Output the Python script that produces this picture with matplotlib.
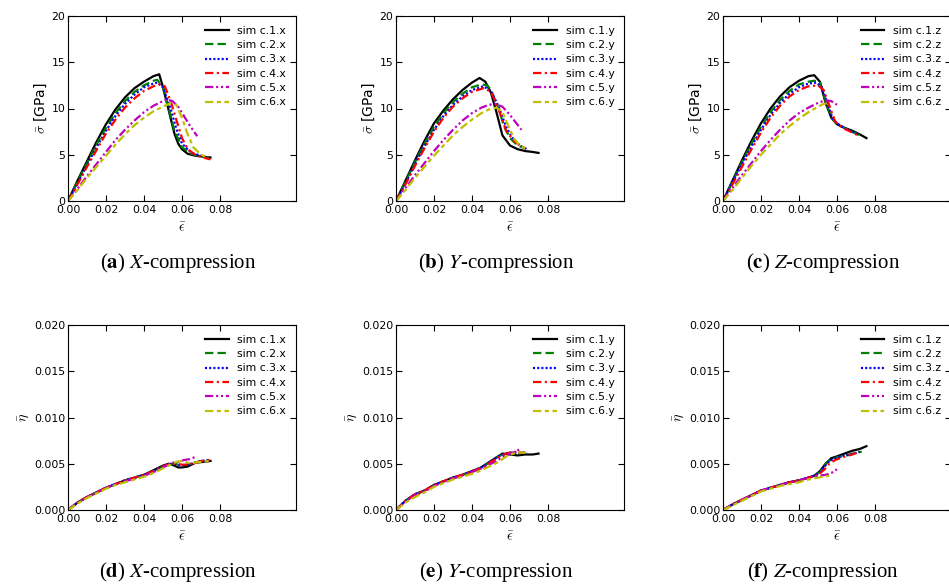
import matplotlib
matplotlib.use('Agg')
import matplotlib.pyplot as plt

# strain / stress / porosity readings per case (c.1 ... c.6)
eps_x = [
    [0, .005, .01, .015, .02, .025, .03, .035, .04, .045, .048, .050, .053, .056, .058, .060, .063, .067, .071, .075],
    [0, .005, .01, .015, .02, .025, .03, .035, .04, .045, .047, .050, .053, .056, .060, .065, .070, .074],
    [0, .005, .01, .015, .02, .025, .03, .035, .04, .045, .047, .050, .054, .057, .060, .065, .070, .074],
    [0, .005, .01, .015, .02, .025, .03, .035, .04, .045, .048, .051, .054, .057, .060, .063, .067, .071, .075],
    [0, .005, .01, .015, .02, .025, .03, .035, .04, .045, .050, .052, .055, .058, .061, .064, .068],
    [0, .005, .01, .015, .02, .025, .03, .035, .04, .045, .050, .054, .057, .060, .063, .066, .070, .074],
]
sig_x = [
    [0, 2.2, 4.3, 6.4, 8.3, 9.9, 11.2, 12.2, 12.9, 13.5, 13.7, 12.3, 9.8, 7.3, 6.2, 5.6, 5.1, 4.9, 4.8, 4.7],
    [0, 2.1, 4.1, 6.1, 7.9, 9.5, 10.8, 11.8, 12.5, 13.0, 13.1, 12.3, 10.0, 7.6, 5.8, 5.1, 4.8, 4.7],
    [0, 1.9, 3.9, 5.8, 7.6, 9.2, 10.5, 11.5, 12.3, 12.7, 12.8, 12.3, 10.0, 7.8, 6.2, 5.2, 4.9, 4.6],
    [0, 1.8, 3.7, 5.5, 7.3, 8.8, 10.1, 11.1, 11.9, 12.4, 12.6, 12.4, 10.8, 8.8, 6.8, 5.6, 5.0, 4.7, 4.5],
    [0, 1.3, 2.7, 4.0, 5.3, 6.6, 7.7, 8.7, 9.6, 10.3, 10.8, 11.0, 10.8, 10.2, 9.2, 8.2, 7.0],
    [0, 1.2, 2.5, 3.7, 4.9, 6.1, 7.2, 8.2, 9.0, 9.7, 10.2, 10.6, 10.4, 9.0, 7.2, 5.8, 5.0, 4.7],
]
eta_x = [
    [0, .0008, .0014, .0019, .0024, .0028, .0032, .0035, .0038, .0043, .0046, .0048, .0050, .0048, .0046, .0046, .0047, .0051, .0052, .0053],
    [0, .0008, .0014, .0019, .0024, .0028, .0032, .0035, .0038, .0042, .0044, .0047, .0049, .0050, .0048, .0050, .0053, .0054],
    [0, .0008, .0014, .0019, .0024, .0028, .0032, .0035, .0038, .0042, .0044, .0047, .0050, .0049, .0048, .0050, .0053, .0054],
    [0, .0008, .0014, .0019, .0024, .0028, .0032, .0035, .0038, .0042, .0045, .0048, .0050, .0050, .0049, .0049, .0051, .0053, .0054],
    [0, .0008, .0014, .0019, .0024, .0028, .0031, .0034, .0037, .0041, .0046, .0048, .0051, .0052, .0054, .0055, .0058],
    [0, .0007, .0013, .0018, .0023, .0027, .0030, .0033, .0036, .0040, .0045, .0049, .0052, .0053, .0051, .0051, .0052, .0053],
]

eps_y = [
    [0, .005, .01, .015, .02, .025, .03, .035, .04, .044, .047, .050, .053, .056, .060, .064, .068, .072, .075],
    [0, .005, .01, .015, .02, .025, .03, .035, .04, .045, .048, .050, .054, .057, .060, .064, .068],
    [0, .005, .01, .015, .02, .025, .03, .035, .04, .046, .050, .054, .058, .061, .065, .069],
    [0, .005, .01, .015, .02, .025, .03, .035, .04, .046, .050, .054, .058, .062, .066, .068],
    [0, .005, .01, .015, .02, .025, .03, .035, .04, .045, .049, .052, .056, .060, .063, .066],
    [0, .005, .01, .015, .02, .025, .03, .035, .04, .045, .049, .053, .056, .059, .062, .065, .068],
]
sig_y = [
    [0, 2.2, 4.4, 6.5, 8.4, 9.8, 11.0, 12.0, 12.8, 13.3, 12.9, 11.7, 9.5, 7.1, 6.0, 5.6, 5.4, 5.3, 5.2],
    [0, 2.1, 4.2, 6.2, 8.0, 9.5, 10.7, 11.6, 12.3, 12.6, 12.5, 12.0, 10.0, 8.0, 6.8, 6.0, 5.7],
    [0, 1.9, 4.0, 5.9, 7.7, 9.2, 10.4, 11.3, 12.0, 12.4, 11.9, 10.2, 8.0, 6.9, 6.0, 5.6],
    [0, 1.8, 3.8, 5.7, 7.5, 9.0, 10.2, 11.1, 11.8, 12.2, 11.8, 9.9, 7.6, 6.5, 5.9, 5.7],
    [0, 1.4, 2.8, 4.1, 5.4, 6.6, 7.7, 8.7, 9.5, 10.1, 10.4, 10.5, 10.2, 9.3, 8.5, 7.7],
    [0, 1.2, 2.5, 3.7, 4.9, 6.0, 7.1, 8.0, 8.8, 9.5, 9.9, 10.1, 9.6, 8.2, 6.8, 6.0, 5.7],
]
eta_y = [
    [0, .0010, .0017, .0021, .0027, .0031, .0035, .0038, .0042, .0045, .0049, .0053, .0057, .0061, .0060, .0059, .0060, .0060, .0061],
    [0, .0010, .0017, .0021, .0027, .0031, .0035, .0038, .0042, .0046, .0050, .0053, .0058, .0061, .0062, .0061, .0062],
    [0, .0010, .0017, .0021, .0027, .0031, .0035, .0038, .0042, .0047, .0053, .0058, .0061, .0062, .0062, .0062],
    [0, .0010, .0017, .0021, .0027, .0031, .0035, .0038, .0042, .0046, .0052, .0057, .0061, .0063, .0062, .0062],
    [0, .0009, .0016, .0020, .0026, .0030, .0034, .0037, .0041, .0045, .0049, .0052, .0057, .0061, .0063, .0067],
    [0, .0008, .0014, .0019, .0025, .0029, .0033, .0036, .0039, .0043, .0047, .0051, .0055, .0059, .0061, .0062, .0062],
]

eps_z = [
    [0, .005, .01, .015, .02, .025, .03, .035, .04, .045, .048, .051, .054, .057, .060, .064, .068, .072, .0755],
    [0, .005, .01, .015, .02, .025, .03, .035, .04, .045, .048, .051, .054, .057, .060, .065, .070, .073],
    [0, .005, .01, .015, .02, .025, .03, .035, .04, .045, .049, .052, .055, .058, .062, .067, .072],
    [0, .005, .01, .015, .02, .025, .03, .035, .04, .045, .050, .053, .056, .059, .063, .068, .072],
    [0, .005, .01, .015, .02, .025, .03, .035, .04, .045, .050, .054, .057, .060],
    [0, .005, .01, .015, .02, .025, .03, .035, .04, .045, .050, .053, .056],
]
sig_z = [
    [0, 2.2, 4.4, 6.5, 8.4, 10.0, 11.3, 12.3, 13.0, 13.5, 13.6, 12.9, 10.6, 9.0, 8.3, 7.9, 7.6, 7.2, 6.8],
    [0, 2.1, 4.2, 6.2, 8.0, 9.6, 10.9, 11.9, 12.6, 12.9, 13.0, 12.9, 10.8, 9.0, 8.3, 7.8, 7.3, 7.0],
    [0, 2.0, 4.0, 5.9, 7.7, 9.3, 10.6, 11.6, 12.3, 12.7, 12.8, 12.3, 10.5, 8.8, 8.1, 7.6, 7.1],
    [0, 1.8, 3.7, 5.6, 7.4, 9.0, 10.3, 11.3, 12.0, 12.4, 12.5, 12.0, 10.3, 8.6, 7.9, 7.4, 7.0],
    [0, 1.4, 2.8, 4.1, 5.4, 6.6, 7.7, 8.7, 9.5, 10.1, 10.6, 10.9, 10.8, 10.4],
    [0, 1.2, 2.5, 3.8, 5.0, 6.1, 7.2, 8.1, 8.9, 9.6, 10.2, 10.5, 10.6],
]
eta_z = [
    [0, .0006, .0011, .0016, .0021, .0024, .0027, .0030, .0032, .0035, .0037, .0042, .0050, .0056, .0058, .0061, .0064, .0066, .0069],
    [0, .0006, .0011, .0016, .0021, .0024, .0027, .0030, .0032, .0035, .0037, .0041, .0050, .0055, .0057, .0059, .0062, .0063],
    [0, .0006, .0011, .0016, .0021, .0024, .0027, .0030, .0032, .0035, .0038, .0043, .0051, .0055, .0058, .0060, .0063],
    [0, .0006, .0011, .0016, .0021, .0024, .0027, .0030, .0032, .0035, .0038, .0043, .0050, .0054, .0057, .0060, .0063],
    [0, .0006, .0011, .0016, .0021, .0024, .0027, .0030, .0032, .0035, .0037, .0038, .0040, .0044],
    [0, .0005, .0010, .0015, .0020, .0023, .0026, .0028, .0030, .0033, .0035, .0036, .0037],
]

directions = ['x', 'y', 'z']
captions = ['X', 'Y', 'Z']
letters_top = ['a', 'b', 'c']
letters_bot = ['d', 'e', 'f']

# line style per case (dash lengths in points, not scaled by width)
colors = ['k', 'g', 'b', 'r', 'm', 'y']
styles = ['-', (0, (6, 3)), (0, (1.5, 1.5)), (0, (6, 2.5, 1.5, 2.5)),
          (0, (6, 2, 1.5, 2, 1.5, 2)), (0, (6, 2.5, 3, 2.5))]

plt.rcParams['font.family'] = ['DejaVu Sans']
plt.rcParams['font.size'] = 7.8
plt.rcParams['xtick.direction'] = 'in'
plt.rcParams['ytick.direction'] = 'in'
plt.rcParams['xtick.top'] = True
plt.rcParams['ytick.right'] = True
plt.rcParams['xtick.major.size'] = 4
plt.rcParams['ytick.major.size'] = 4
plt.rcParams['mathtext.fontset'] = 'cm'
plt.rcParams['lines.scale_dashes'] = False

W, H = 949, 586
fig = plt.figure(figsize=(W / 100, H / 100), dpi=100)

lefts = [68, 396, 723]
caption_x = [178, 496, 823]
ax_w, ax_h = 228, 185

all_eps = [eps_x, eps_y, eps_z]
all_sig = [sig_x, sig_y, sig_z]
all_eta = [eta_x, eta_y, eta_z]

for col in range(3):
    d = directions[col]
    for row in range(2):
        top_px = 16 if row == 0 else 325
        ax = fig.add_axes([lefts[col] / W, 1 - (top_px + ax_h) / H, ax_w / W, ax_h / H])
        vals = all_sig[col] if row == 0 else all_eta[col]
        for i in range(6):
            ax.plot(all_eps[col][i], vals[i], color=colors[i], lw=1.6,
                    linestyle=styles[i], label='sim c.%d.%s' % (i + 1, d))
        ax.set_xlim(0, 0.12)
        ax.set_xticks([0, 0.02, 0.04, 0.06, 0.08])
        ax.set_xticklabels(['0.00', '0.02', '0.04', '0.06', '0.08'])
        if row == 0:
            ax.set_ylim(0, 20)
            ax.set_yticks([0, 5, 10, 15, 20])
            ax.set_ylabel(r'$\bar{\sigma}$ [GPa]', fontsize=10, labelpad=2)
        else:
            ax.set_ylim(0, 0.02)
            ax.set_yticks([0, 0.005, 0.01, 0.015, 0.02])
            ax.set_yticklabels(['0.000', '0.005', '0.010', '0.015', '0.020'])
            ax.set_ylabel(r'$\bar{\eta}$', fontsize=10, labelpad=2)
        ax.set_xlabel(r'$\bar{\epsilon}$', fontsize=10, labelpad=4)
        ax.tick_params(axis='x', pad=3)
        ax.tick_params(axis='y', pad=2)
        ax.legend(loc='upper right', frameon=False, handlelength=2.2,
                  labelspacing=0.4, borderaxespad=0.5, handletextpad=0.8)

        letter = letters_top[col] if row == 0 else letters_bot[col]
        cap_y = 263 if row == 0 else 572
        fig.text(caption_x[col] / W, 1 - cap_y / H,
                 r'($\mathbf{%s}$) $\mathit{%s}$-compression' % (letter, captions[col]),
                 ha='center', va='center', fontsize=15, family='Liberation Serif',
                 math_fontfamily='stix')

fig.savefig('out.png', dpi=100)
